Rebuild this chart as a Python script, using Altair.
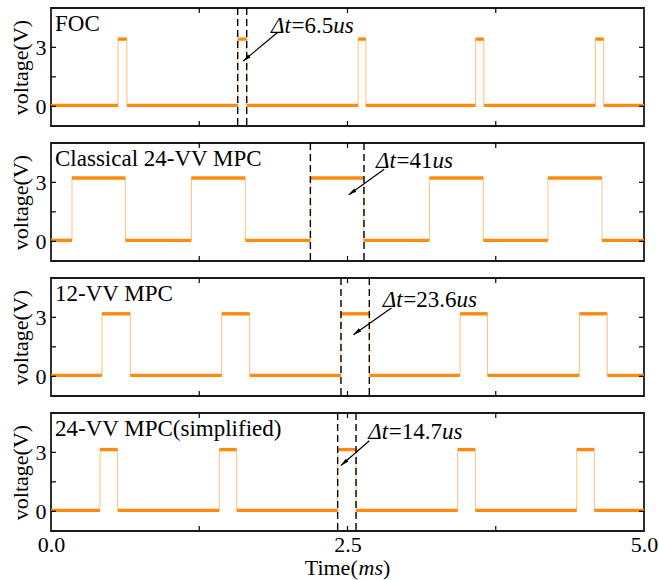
import math
import altair as alt
import pandas as pd

# ---------------- data ----------------
X_DOMAIN = [0.0, 5.0]
Y_DOMAIN = [-1.0, 5.0]

panel_names = ["FOC", "Classical 24-VV MPC", "12-VV MPC", "24-VV MPC(simplified)"]

# switching instants (ms) of each waveform, starting from the low level
edges_foc = [0.565, 0.640, 1.576, 1.650, 2.590, 2.655, 3.580, 3.650, 4.590, 4.660]
edges_c24 = [0.177, 0.627, 1.183, 1.638, 2.187, 2.637, 3.190, 3.645, 4.190, 4.646]
edges_v12 = [0.430, 0.669, 1.439, 1.675, 2.445, 2.684, 3.449, 3.680, 4.455, 4.690]
edges_s24 = [0.413, 0.562, 1.419, 1.566, 2.417, 2.572, 3.429, 3.578, 4.433, 4.581]
all_edges = [edges_foc, edges_c24, edges_v12, edges_s24]

high_levels = [3.42, 3.22, 3.18, 3.14]
low_levels = [0.05, 0.05, 0.05, 0.05]

# dashed markers (ms)
dashed_lines = [[1.574, 1.650], [2.187, 2.639], [2.445, 2.684], [2.417, 2.572]]

# annotations
dt_values = ["6.5", "41", "23.6", "14.7"]
label_t = [1.855, 2.740, 2.797, 2.675]
label_v = [4.10, 4.07, 3.90, 4.03]
arrow_t0 = [1.910, 2.810, 2.870, 2.684]
arrow_v0 = [3.75, 3.66, 3.48, 3.59]
arrow_t1 = [1.620, 2.510, 2.550, 2.445]
arrow_v1 = [2.30, 2.37, 2.12, 2.33]

x_tick_vals = [1.25, 2.5, 3.75]
y_tick_vals = [0, 1.5, 3]
x_label_vals = [0.0, 2.5, 5.0]
y_label_vals = [0, 3]

# ---------------- style ----------------
W, H = 593, 118
FONT = "Liberation Serif"
FS = 22
FS_T = 23
ORANGE = "#ff8a10"

xs = alt.Scale(domain=X_DOMAIN, nice=False, zero=False)
ys = alt.Scale(domain=Y_DOMAIN, nice=False, zero=False)

# approximate Times-like advance widths (em) used to butt text pieces together
CW = {"Δ": 0.61, "t": 0.28, "=": 0.564, ".": 0.25, "u": 0.5, "s": 0.389}


def text_w(s, fs):
    return sum(CW.get(c, 0.5) for c in s) * fs


def panel(i, bottom):
    edges = all_edges[i]
    lo, hi = low_levels[i], high_levels[i]
    times = [X_DOMAIN[0]] + edges + [X_DOMAIN[1]]
    seg = pd.DataFrame({
        "t0": times[:-1],
        "t1": times[1:],
        "v": [lo if k % 2 == 0 else hi for k in range(len(times) - 1)],
    })
    edg = pd.DataFrame({"t0": edges, "v": lo, "v1": hi})

    if bottom:
        xaxis = alt.Axis(values=x_label_vals, format=".1f", title=None, tickSize=0,
                         domain=False, grid=False, labelFontSize=FS, labelPadding=3,
                         labelColor="black", labelFont=FONT, labelFlush=False)
    else:
        xaxis = alt.Axis(values=x_label_vals, title=None, tickSize=0, domain=False,
                         grid=False, labels=False, ticks=False)
    yaxis = alt.Axis(values=y_label_vals, title="voltage(V)", tickSize=0, domain=False,
                     grid=False, labelFontSize=FS, titleFontSize=FS, titleFontWeight="normal",
                     labelPadding=5, titlePadding=3, labelColor="black", titleColor="black",
                     labelFont=FONT, titleFont=FONT, labelFlush=False)

    X = lambda f: alt.X(f, scale=xs, axis=xaxis)
    Y = lambda f: alt.Y(f, scale=ys, axis=yaxis)

    flats = alt.Chart(seg).mark_rule(color=ORANGE, strokeWidth=3.4).encode(
        x=X("t0:Q"), x2="t1:Q", y=Y("v:Q"),
    )
    risers = alt.Chart(edg).mark_rule(color=ORANGE, strokeWidth=1, opacity=0.55).encode(
        x=X("t0:Q"), y=Y("v:Q"), y2="v1:Q",
    )
    dashes = alt.Chart(pd.DataFrame({"t0": dashed_lines[i]})).mark_rule(
        color="black", strokeWidth=1.4, strokeDash=[7, 4]
    ).encode(x=X("t0:Q"))

    arr = pd.DataFrame({"t0": [arrow_t0[i]], "v": [arrow_v0[i]],
                        "t1": [arrow_t1[i]], "v1": [arrow_v1[i]]})
    dxp = (arrow_t1[i] - arrow_t0[i]) * W / (X_DOMAIN[1] - X_DOMAIN[0])
    dyp = -(arrow_v1[i] - arrow_v0[i]) * H / (Y_DOMAIN[1] - Y_DOMAIN[0])
    ang = math.degrees(math.atan2(dxp, -dyp)) % 360
    shaft = alt.Chart(arr).mark_rule(color="black", strokeWidth=1.2).encode(
        x=X("t0:Q"), x2="t1:Q", y=Y("v:Q"), y2="v1:Q",
    )
    head = alt.Chart(arr).mark_point(
        shape="M0,0L0.42,1.7L-0.42,1.7Z", filled=True, color="black", size=90,
        angle=ang, opacity=1,
    ).encode(x=X("t1:Q"), y=Y("v1:Q"))

    lab = pd.DataFrame({"t0": [label_t[i]], "v": [label_v[i]]})
    p1, p2, p3 = "Δt", "=" + dt_values[i], "us"
    off2 = text_w(p1, FS_T)
    off3 = off2 + text_w(p2, FS_T)
    texts = []
    for txt, off, style in [(p1, 0, "italic"), (p2, off2, "normal"), (p3, off3, "italic")]:
        texts.append(
            alt.Chart(lab).mark_text(text=txt, font=FONT, fontSize=FS_T, fontStyle=style,
                                     align="left", baseline="middle", dx=off, color="black")
            .encode(x=X("t0:Q"), y=Y("v:Q"))
        )

    title = alt.Chart(pd.DataFrame({"n": [panel_names[i]]})).mark_text(
        font=FONT, fontSize=FS_T, align="left", baseline="middle", color="black"
    ).encode(text="n:N", x=alt.value(4), y=alt.value(16))

    xt = pd.DataFrame({"t0": x_tick_vals})
    yt = pd.DataFrame({"v": y_tick_vals})
    tick_top = alt.Chart(xt).mark_rule(color="black", strokeWidth=1.2).encode(
        x=X("t0:Q"), y=alt.value(0), y2=alt.value(5))
    tick_bot = alt.Chart(xt).mark_rule(color="black", strokeWidth=1.2).encode(
        x=X("t0:Q"), y=alt.value(H), y2=alt.value(H - 5))
    tick_l = alt.Chart(yt).mark_rule(color="black", strokeWidth=1.2).encode(
        y=Y("v:Q"), x=alt.value(0), x2=alt.value(5))
    tick_r = alt.Chart(yt).mark_rule(color="black", strokeWidth=1.2).encode(
        y=Y("v:Q"), x=alt.value(W - 5), x2=alt.value(W))

    layers = [flats, risers, dashes, shaft, head] + texts + [title, tick_top, tick_bot, tick_l, tick_r]

    if bottom:
        tdf = pd.DataFrame({"t0": [2.5]})
        parts = [("Time(", "normal"), ("ms", "italic"), (")", "normal")]
        pw = {"Time(": (0.611 + 0.278 + 0.778 + 0.444 + 0.333) * FS,
              "ms": (0.722 + 0.389) * FS, ")": 0.333 * FS}
        total = sum(pw.values())
        off = -total / 2
        for txt, style in parts:
            layers.append(
                alt.Chart(tdf).mark_text(text=txt, font=FONT, fontSize=FS, fontStyle=style,
                                         align="left", baseline="middle", dx=off, color="black")
                .encode(x=X("t0:Q"), y=alt.value(H + 37))
            )
            off += pw[txt]

    return alt.layer(*layers).properties(width=W, height=H)


chart = (
    alt.vconcat(*[panel(i, i == 3) for i in range(4)], spacing=17, bounds="flush")
    .properties(padding={"left": 8, "top": 6, "right": 0, "bottom": 0})
    .configure(font=FONT)
    .configure_view(stroke="#1a1a1a", strokeWidth=1.8)
)

chart.save("out.html", embed_options={"renderer": "svg", "actions": False})
